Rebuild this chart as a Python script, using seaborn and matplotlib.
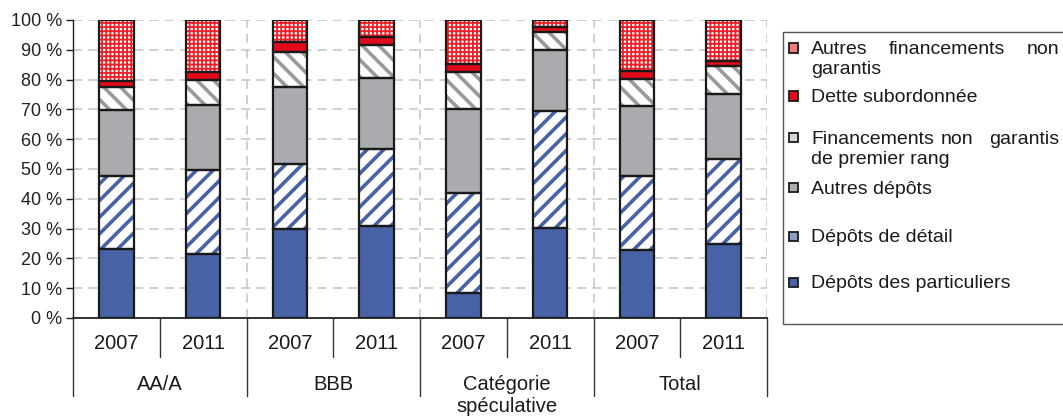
import matplotlib
matplotlib.use("Agg")
import matplotlib.pyplot as plt
import matplotlib.transforms as mtransforms
from matplotlib.patches import Rectangle
import pandas as pd
import seaborn as sns

# ---- data (share of total funding, %) ----
groups = ["AA/A", "BBB", "Catégorie\nspéculative", "Total"]
years = ["2007", "2011"]

particuliers = [23.2, 21.4, 29.7, 31.0, 8.5, 30.2, 22.7, 24.7]
detail = [24.4, 28.2, 22.1, 25.7, 33.5, 39.2, 24.9, 28.7]
autres_depots = [22.2, 22.0, 25.6, 24.0, 28.2, 20.7, 23.5, 21.9]
premier_rang = [7.6, 8.4, 11.7, 10.8, 12.2, 5.8, 9.0, 9.1]
dette_sub = [2.1, 2.4, 3.4, 2.9, 3.0, 1.6, 2.8, 2.0]
autres_fin = [20.5, 17.6, 7.5, 5.6, 14.6, 2.5, 17.1, 13.6]

series_names = [
    "Dépôts des particuliers",
    "Dépôts de détail",
    "Autres dépôts",
    "Financements non garantis\nde premier rang",
    "Dette subordonnée",
    "Autres financements non\ngarantis",
]
y_ticks = [0, 10, 20, 30, 40, 50, 60, 70, 80, 90, 100]

BLUE = "#4862A6"
RED = "#E30A1B"
GREY = "#A9ABAE"
HATCH_GREY = "#9A9A9A"

# facecolor, hatch, hatch colour, hatch line width for each layer (bottom to top)
styles = [
    (BLUE, None, BLUE, 2.4),
    ("white", "//", BLUE, 2.6),
    (GREY, None, GREY, 2.4),
    ("white", "\\\\", HATCH_GREY, 2.6),
    (RED, None, RED, 2.4),
    ("white", "++++", "#EC1F27", 1.3),
]

sns.set_theme(style="white")
plt.rcParams["font.family"] = ["Liberation Sans", "DejaVu Sans"]

bar_ids = [f"{g} {y}" for g in groups for y in years]
values = [particuliers, detail, autres_depots, premier_rang, dette_sub, autres_fin]
df = pd.DataFrame({"barre": bar_ids})
for name, vals in zip(series_names, values):
    df[name] = vals

fig = plt.figure(figsize=(10.63, 4.16), dpi=100)
ax = fig.add_axes([73 / 1063, 1 - 318 / 416, (767 - 73) / 1063, 298 / 416])

bottom = [0.0] * len(bar_ids)
for name, (fc, hatch, hc, hlw) in zip(series_names, styles):
    n_before = len(ax.patches)
    with plt.rc_context({"hatch.linewidth": hlw}):
        sns.barplot(data=df, x="barre", y=name, order=bar_ids, ax=ax, width=0.4,
                    saturation=1, errorbar=None, color=fc, facecolor=fc,
                    edgecolor=hc, linewidth=0, hatch=hatch, bottom=bottom, zorder=3)
    for p in ax.patches[n_before:]:
        if hasattr(p, "set_hatch_linewidth"):
            p.set_hatch_linewidth(hlw)
    sns.barplot(data=df, x="barre", y=name, order=bar_ids, ax=ax, width=0.4,
                saturation=1, errorbar=None, color=fc, facecolor="none",
                edgecolor="#1a1a1a", linewidth=1.6, bottom=bottom, zorder=4)
    bottom = [b + v for b, v in zip(bottom, df[name])]

ax.set_xlim(-0.5, len(bar_ids) - 0.5)
ax.set_ylim(0, 100)
ax.set_xlabel("")
ax.set_ylabel("")
ax.set_xticks([])
ax.set_yticks(y_ticks)
ax.set_yticklabels([f"{t} %" for t in y_ticks], fontsize=13, color="#222222")
ax.tick_params(axis="y", which="both", left=True, length=5, width=1,
               color="#222222", pad=3)

# dashed grid
dash = (0, (6, 4))
for t in y_ticks[1:]:
    ax.axhline(t, color="#C4C4C4", lw=1.1, ls=dash, zorder=1)
for k in range(1, len(groups) + 1):
    ax.axvline(2 * k - 0.5, color="#C4C4C4", lw=1.1, ls=dash, zorder=1)

for side in ["top", "right"]:
    ax.spines[side].set_visible(False)
ax.spines["left"].set_color("#222222")
ax.spines["left"].set_linewidth(1.0)
ax.spines["bottom"].set_color("#222222")
ax.spines["bottom"].set_linewidth(1.3)

# two-level category labels under the axis
trans = mtransforms.blended_transform_factory(ax.transData, ax.transAxes)
px = 1 / 298
for i in range(len(bar_ids) + 1):
    x = i - 0.5
    depth = -78 * px if i % 2 == 0 else -39 * px
    ax.plot([x, x], [0, depth], transform=trans, color="#333333", lw=1.0,
            clip_on=False, zorder=5)
for i, bid in enumerate(bar_ids):
    ax.text(i, -31 * px, years[i % 2], transform=trans, ha="center",
            va="baseline", fontsize=14.5, color="#1a1a1a")
for j, g in enumerate(groups):
    for k, line in enumerate(g.split("\n")):
        ax.text(2 * j + 0.5, (-72 - 22 * k) * px, line, transform=trans,
                ha="center", va="baseline", fontsize=14.5, color="#1a1a1a")

# legend box
W, H = 1063, 416
fig.add_artist(Rectangle((783 / W, 1 - 324 / H), 300 / W, 292 / H,
                         transform=fig.transFigure, facecolor="white",
                         edgecolor="#555555", lw=1.0, clip_on=False))

# legend swatches: (facecolor, hatch colour) simplified for the small squares
swatch = [
    (BLUE, BLUE),
    ("#8E9CC8", None),
    (GREY, None),
    ("#D6D6D6", None),
    (RED, None),
    ("#F27C80", None),
]

legend_rows = [
    (5, 48, [("Autres", 811, "left"), ("financements", 947, "center"), ("non", 1059, "right")]),
    (None, 68, [("garantis", 811, "left")]),
    (4, 96, [("Dette subordonnée", 811, "left")]),
    (3, 137, [("Financements", 811, "left"), ("non", 957, "center"), ("garantis", 1059, "right")]),
    (None, 157, [("de premier rang", 811, "left")]),
    (2, 187, [("Autres dépôts", 811, "left")]),
    (1, 236, [("Dépôts de détail", 811, "left")]),
    (0, 282, [("Dépôts des particuliers", 811, "left")]),
]
msize = 9
for idx, yc, words in legend_rows:
    if idx is not None:
        fc = swatch[idx][0]
        fig.add_artist(Rectangle(((793 - msize / 2) / W, 1 - (yc + msize / 2) / H),
                                 msize / W, msize / H, transform=fig.transFigure,
                                 facecolor=fc, edgecolor="#1a1a1a", lw=1.3))
    for text, x, ha in words:
        fig.text(x / W, 1 - yc / H, text, ha=ha, va="center_baseline",
                 fontsize=14, color="#1a1a1a")

fig.savefig("out.png", dpi=100)
